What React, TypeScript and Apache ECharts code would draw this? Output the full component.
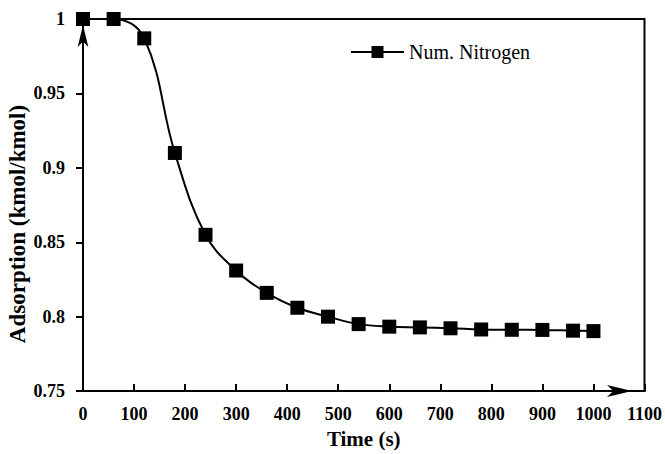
import React, { useEffect, useRef } from "react";
import * as echarts from "echarts";

const timeValues = [0, 60, 120, 180, 240, 300, 360, 420, 480, 540, 600, 660, 720, 780, 840, 900, 960, 1000];
const adsorptionValues = [1.0, 1.0, 0.987, 0.91, 0.855, 0.831, 0.816, 0.806, 0.8, 0.795, 0.7933, 0.7928, 0.7922, 0.7914, 0.7912, 0.7911, 0.7906, 0.7903];
const seriesName = "Num. Nitrogen";
const xAxisTitle = "Time (s)";
const yAxisTitle = "Adsorption (kmol/kmol)";

const serif = "serif";

export default function App() {
  const ref = useRef<HTMLDivElement>(null);
  useEffect(() => {
    if (!ref.current) return;
    const chart = echarts.init(ref.current, null, { renderer: "svg" });
    const data = timeValues.map((t, i) => [t, adsorptionValues[i]]);
    chart.setOption({
      animation: false,
      backgroundColor: "#fff",
      grid: {
        left: 83,
        right: 18,
        top: 19,
        bottom: 57,
        show: true,
        borderColor: "#000",
        borderWidth: 2,
      },
      legend: {
        data: [seriesName],
        left: 345,
        top: 37,
        itemWidth: 53,
        itemHeight: 15,
        itemGap: 5,
        textStyle: { fontFamily: serif, fontSize: 20, color: "#000" },
      },
      xAxis: {
        type: "value",
        min: 0,
        max: 1100,
        interval: 100,
        name: xAxisTitle,
        nameLocation: "middle",
        nameGap: 34,
        nameTextStyle: { fontFamily: serif, fontSize: 21, fontWeight: "bold", color: "#000" },
        axisLine: {
          show: true,
          symbol: ["none", "arrow"],
          symbolSize: [9, 25],
          symbolOffset: [0, -12.5],
          lineStyle: { color: "#000", width: 2 },
        },
        axisTick: { show: true, inside: true, length: 7, lineStyle: { color: "#000", width: 2 } },
        axisLabel: {
          fontFamily: serif,
          fontSize: 18,
          fontWeight: "bold",
          color: "#000",
          margin: 14,
          formatter: (v: number) => String(v),
        },
        splitLine: { show: false },
      },
      yAxis: {
        type: "value",
        min: 0.75,
        max: 1,
        interval: 0.05,
        axisLine: {
          show: true,
          symbol: ["none", "arrow"],
          symbolSize: [8, 22],
          symbolOffset: [0, -6],
          lineStyle: { color: "#000", width: 2 },
        },
        axisTick: { show: true, inside: false, length: 7, lineStyle: { color: "#000", width: 2 } },
        axisLabel: {
          fontFamily: serif,
          fontSize: 18,
          fontWeight: "bold",
          color: "#000",
          margin: 18,
          formatter: (v: number) => String(Math.round(v * 100) / 100),
        },
        splitLine: { show: false },
      },
      graphic: [
        {
          type: "text",
          x: 17,
          y: 224,
          rotation: Math.PI / 2,
          style: {
            text: yAxisTitle,
            fontFamily: serif,
            fontSize: 23,
            fontWeight: "bold",
            fill: "#000",
            align: "center",
            verticalAlign: "middle",
          },
        },
      ],
      series: [
        {
          name: seriesName,
          type: "line",
          data,
          smooth: 0.4,
          symbol: "rect",
          symbolSize: 14,
          showAllSymbol: true,
          lineStyle: { color: "#000", width: 2 },
          itemStyle: { color: "#000" },
          z: 5,
        },
      ],
    });
    return () => chart.dispose();
  }, []);
  return <div ref={ref} style={{ position: "fixed", left: 0, top: 0, width: 665, height: 454 }} />;
}
